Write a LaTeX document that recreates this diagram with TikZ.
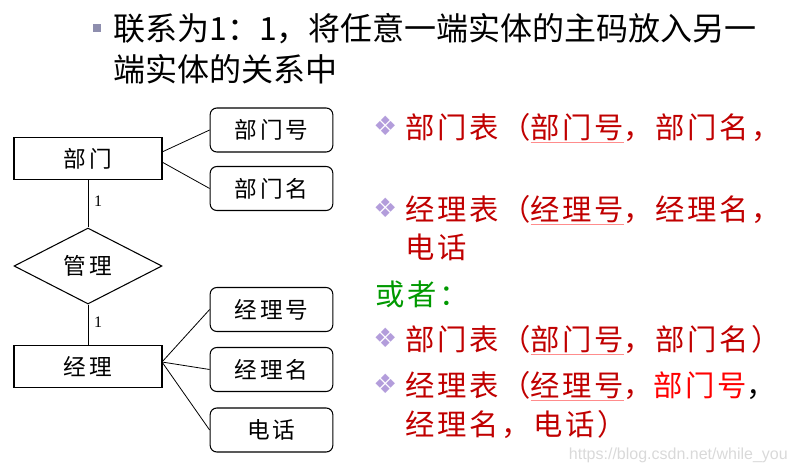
\documentclass[tikz,border=0pt]{standalone}
\usepackage{fontspec}
\setmainfont{Liberation Serif}
\newfontfamily\cjk{Noto Sans CJK SC}
\newfontfamily\cjkr[LetterSpace=9]{Noto Sans CJK SC}
\newfontfamily\cjkb[LetterSpace=13]{Noto Sans CJK SC}
\newfontfamily\djv{DejaVu Sans}
\newfontfamily\lsans{Liberation Sans}
\usetikzlibrary{shapes.geometric}
\definecolor{dred}{HTML}{C00000}
\definecolor{bred}{HTML}{FF0000}
\definecolor{dgreen}{HTML}{009900}
\definecolor{lav}{HTML}{B39DDB}
\definecolor{sq}{HTML}{8E8EAE}
\newcommand{\myul}[1]{{\color{bred!45}\underline{\color{dred}#1}}}
\newcommand{\dia}{{\djv\color{lav}\fontsize{20pt}{20pt}\selectfont ❖}}
\begin{document}
\begin{tikzpicture}[x=0.75pt,y=-0.75pt,
  ent/.style={draw,line width=0.8pt,minimum width=111pt,minimum height=32pt,inner sep=0pt,font=\cjkb\fontsize{17pt}{17pt}\selectfont},
  attr/.style={draw,line width=0.8pt,rounded corners=5pt,minimum width=92pt,minimum height=33pt,inner sep=0pt,font=\cjkb\fontsize{17pt}{17pt}\selectfont},
  rel/.style={draw,line width=0.8pt,diamond,aspect=2,minimum width=111pt,minimum height=57pt,inner sep=0pt,font=\cjkb\fontsize{17pt}{17pt}\selectfont},
  txt/.style={anchor=west,inner sep=0pt,font=\cjkr\fontsize{22pt}{22pt}\selectfont,text=dred},
  top/.style={anchor=west,inner sep=0pt,font=\cjk\fontsize{24pt}{24pt}\selectfont},
  ln/.style={line width=0.6pt}]
\useasboundingbox (0,0) rectangle (794,472);
\fill[sq] (93,24) rectangle (101,32);
\node[top] (t1) at (113,29) {联系为1：1，将任意一端实体的主码放入另一};
\node[top] (t2) at (113,69) {端实体的关系中};
\node[ent] (bm) at (88,158.5) {部门};
\node[rel] (gl) at (88,266) {管理};
\node[ent] (jl) at (88,366.5) {经理};
\node[attr] (a1) at (271.5,130) {部门号};
\node[attr] (a2) at (271.5,188.5) {部门名};
\node[attr] (a3) at (271.5,309.5) {经理号};
\node[attr] (a4) at (271.5,369.5) {经理名};
\node[attr] (a5) at (271.5,430) {电话};
\draw[ln] (bm) -- (gl) node[pos=0.45,right=1pt,font=\fontsize{12pt}{12pt}\selectfont] {1};
\draw[ln] (gl) -- (jl) node[pos=0.45,right=1pt,font=\fontsize{12pt}{12pt}\selectfont] {1};
\coordinate (b1) at (162,152);
\coordinate (b2) at (162,162);
\draw[ln] (b1) -- (a1.west);
\draw[ln] (b2) -- (a2.west);
\coordinate (j1) at (162,362);
\draw[ln] (j1) -- (a3.west);
\draw[ln] (j1) -- (a4.west);
\draw[ln] (j1) -- (a5.west);
\node[anchor=west,inner sep=0pt] (d1) at (373,126) {\dia};
\node[txt] (r1) at (405,128) {部门表（\myul{部门号}，部门名，};
\node[anchor=west,inner sep=0pt] (d2) at (373,208) {\dia};
\node[txt] (r2) at (405,210) {经理表（\myul{经理号}，经理名，};
\node[txt] (r3) at (405,247) {电话};
\node[txt,text=dgreen] (r4) at (375,294) {或者：};
\node[anchor=west,inner sep=0pt] (d3) at (373,338) {\dia};
\node[txt] (r5) at (405,340) {部门表（\myul{部门号}，部门名）};
\node[anchor=west,inner sep=0pt] (d4) at (373,384) {\dia};
\node[txt] (r6) at (405,386) {经理表（\myul{经理号}，{\color{bred}部门号}{\color{black}，}};
\node[txt] (r7) at (405,425) {经理名，电话）};
\node[anchor=east,inner sep=0pt,font=\lsans\fontsize{12pt}{12pt}\selectfont,text=black!15] (wm) at (788,455) {https://blog.csdn.net/while\_you};
\end{tikzpicture}
\end{document}
